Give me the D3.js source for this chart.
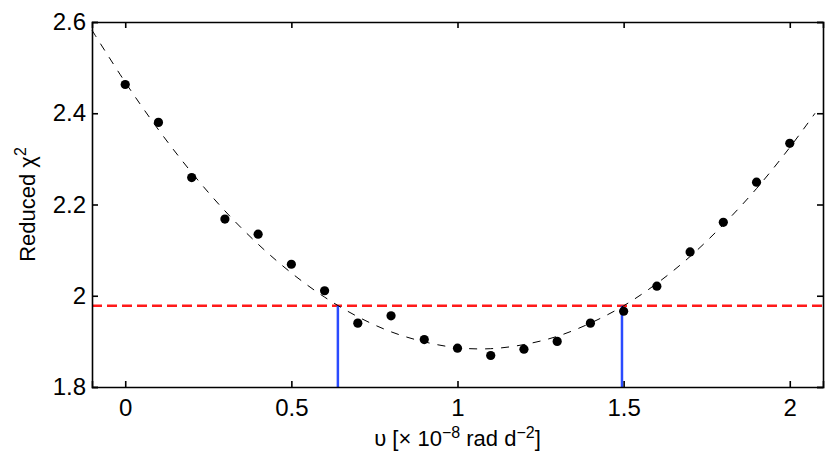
<!DOCTYPE html>
<html>
<head>
<meta charset="utf-8">
<script src="https://cdn.jsdelivr.net/npm/d3@7"></script>
<style>
  body { margin: 0; background: #fff; }
  text { font-family: "Liberation Sans", Arial, sans-serif; fill: #000; }
</style>
</head>
<body>
<svg id="chart"></svg>
<script>
// measured chi2 values
var nuVals = [0, 0.1, 0.2, 0.3, 0.4, 0.5, 0.6, 0.7, 0.8, 0.9, 1.0,
              1.1, 1.2, 1.3, 1.4, 1.5, 1.6, 1.7, 1.8, 1.9, 2.0];
var chiVals = [2.463, 2.380, 2.259, 2.168, 2.135, 2.069, 2.011, 1.940, 1.956, 1.904, 1.885,
               1.869, 1.883, 1.900, 1.940, 1.966, 2.021, 2.096, 2.161, 2.249, 2.334];

// fitted curve
var fitX = [-0.1, 0, 0.1, 0.2, 0.3, 0.4, 0.5, 0.6, 0.7, 0.8, 0.9, 1.0,
            1.1, 1.2, 1.3, 1.4, 1.5, 1.6, 1.7, 1.8, 1.9, 2.0, 2.076];
var fitY = [2.582, 2.468, 2.364, 2.270, 2.186, 2.113, 2.050, 1.997, 1.954, 1.921, 1.899, 1.886,
            1.884, 1.893, 1.911, 1.940, 1.978, 2.027, 2.086, 2.156, 2.235, 2.325, 2.400];

var threshold = 1.978;
var bounds = [0.64, 1.495];

var xTicks = [0, 0.5, 1, 1.5, 2];
var xTickLabels = ["0", "0.5", "1", "1.5", "2"];
var yTicks = [1.8, 2.0, 2.2, 2.4, 2.6];
var yTickLabels = ["1.8", "2", "2.2", "2.4", "2.6"];

var W = 830, H = 460;
var m = {left: 92, right: 7, top: 22, bottom: 73};

var svg = d3.select("#chart").attr("width", W).attr("height", H);

var x = d3.scaleLinear().domain([-0.1, 2.1]).range([m.left, W - m.right]);
var y = d3.scaleLinear().domain([1.8, 2.6]).range([H - m.bottom, m.top]);

var g = svg.append("g");

// red threshold line
g.append("line")
  .attr("x1", x(-0.1)).attr("x2", x(2.1))
  .attr("y1", y(threshold)).attr("y2", y(threshold))
  .style("stroke", "#ff1a1a")
  .style("stroke-width", 2.5)
  .style("stroke-dasharray", "10,5");

// blue bound lines
g.selectAll("line.bound").data(bounds).enter().append("line")
  .attr("class", "bound")
  .attr("x1", d => x(d)).attr("x2", d => x(d))
  .attr("y1", y(1.8)).attr("y2", y(threshold))
  .style("stroke", "#2a4bff")
  .style("stroke-width", 2.5);

// fit curve
var fitData = fitX.map((v, i) => [v, fitY[i]]);
g.append("path")
  .datum(fitData)
  .attr("d", d3.line().x(d => x(d[0])).y(d => y(d[1])).curve(d3.curveCatmullRom))
  .style("fill", "none")
  .style("stroke", "#000")
  .style("stroke-width", 1)
  .style("stroke-dasharray", "8,8");

// points
g.selectAll("circle").data(nuVals).enter().append("circle")
  .attr("cx", d => x(d))
  .attr("cy", (d, i) => y(chiVals[i]))
  .attr("r", 4.6)
  .style("fill", "#000");

// axes, ticks inside on all sides
var fmtX = (d, i) => xTickLabels[i];
var fmtY = (d, i) => yTickLabels[i];

var axB = svg.append("g").attr("transform", "translate(0," + y(1.8) + ")")
  .call(d3.axisBottom(x).tickValues(xTicks).tickFormat(fmtX).tickSize(-6).tickPadding(12));
var axT = svg.append("g").attr("transform", "translate(0," + y(2.6) + ")")
  .call(d3.axisTop(x).tickValues(xTicks).tickFormat("").tickSize(-6));
var axL = svg.append("g").attr("transform", "translate(" + x(-0.1) + ",0)")
  .call(d3.axisLeft(y).tickValues(yTicks).tickFormat(fmtY).tickSize(-6).tickPadding(6));
var axR = svg.append("g").attr("transform", "translate(" + x(2.1) + ",0)")
  .call(d3.axisRight(y).tickValues(yTicks).tickFormat("").tickSize(-6));

[axB, axT, axL, axR].forEach(function(a){
  a.attr("font-size", null).attr("font-family", null);
  a.select(".domain").attr("stroke", "#000").attr("stroke-width", 1.6);
  a.selectAll(".tick line").attr("stroke", "#000").attr("stroke-width", 1.6);
  a.selectAll("text").style("font-size", "24px").attr("fill", "#000");
});

// x label
var xl = svg.append("text")
  .attr("x", (x(-0.1) + x(2.1)) / 2)
  .attr("y", 446)
  .attr("text-anchor", "middle")
  .style("font-size", "22px");
xl.append("tspan").text("\u03c5 [\u00d7 10");
xl.append("tspan").attr("dy", -8).style("font-size", "16px").text("\u22128");
xl.append("tspan").attr("dy", 8).text(" rad d");
xl.append("tspan").attr("dy", -8).style("font-size", "16px").text("\u22122");
xl.append("tspan").attr("dy", 8).text("]");

// y label
var yl = svg.append("text")
  .attr("transform", "translate(35," + ((y(1.8) + y(2.6)) / 2) + ") rotate(-90)")
  .attr("text-anchor", "middle")
  .style("font-size", "22px");
yl.append("tspan").text("Reduced \u03c7");
yl.append("tspan").attr("dy", -9).style("font-size", "16px").text("2");
</script>
</body>
</html>
